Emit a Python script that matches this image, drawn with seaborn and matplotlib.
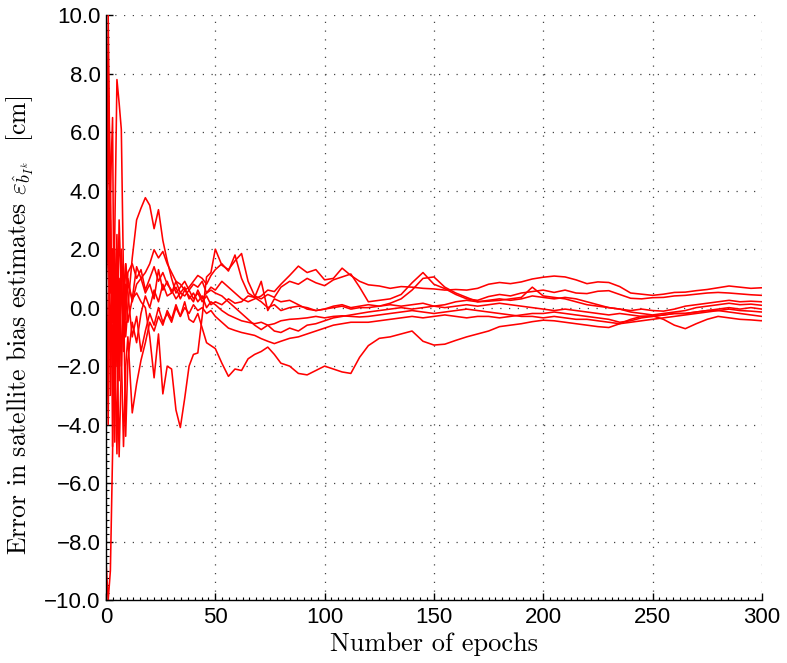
import numpy as np
import pandas as pd
import matplotlib
matplotlib.use('Agg')
import matplotlib.pyplot as plt
import seaborn as sns
from matplotlib.ticker import MultipleLocator, FuncFormatter

epochs = [0, 1, 2, 3, 4, 5, 6, 7, 8, 9, 10,
          12, 14, 16, 18, 20, 22, 24, 26, 28, 30, 32, 34, 36, 38, 40, 42, 44, 46, 48, 50,
          53, 56, 59, 62, 65, 68, 71, 74, 77, 80,
          84, 88, 92, 96, 100, 104, 108, 112, 116, 120,
          125, 130, 135, 140, 145, 150, 155, 160, 165, 170, 175, 180, 185, 190, 195, 200,
          205, 210, 215, 220, 225, 230, 235, 240, 245, 250, 255, 260, 265, 270, 275, 280,
          285, 290, 295, 300]

# error in satellite bias estimates [cm], one list per satellite
sat1 = [0.5, 10.0, 3.0, -2.0, 1.0, -1.5, 0.5, -2.0, 1.0, -1.0, 0.0,
        1.7, 3.0, 3.4, 3.76, 3.5, 2.7, 3.35, 2.3, 1.6, 1.0, 0.5, 0.7, 0.9, 0.6, 0.8, 0.7, 0.9, 0.5, 0.7, 0.6,
        0.9, 0.7, 0.5, 0.3, 0.2, 0.3, 0.4, 0.6, 0.55, 0.8,
        1.1, 1.42, 1.2, 1.3, 0.95, 1.0, 1.35, 1.1, 0.9, 0.78,
        0.74, 0.66, 0.72, 0.70, 0.66, 0.64, 0.60, 0.62, 0.60, 0.66, 0.80, 0.86, 0.82, 0.88, 0.98, 1.04,
        1.08, 1.05, 0.95, 0.82, 0.88, 0.86, 0.72, 0.50, 0.46, 0.42, 0.46, 0.52, 0.53, 0.58, 0.62, 0.68,
        0.74, 0.70, 0.66, 0.68]
sat2 = [1.0, 6.5, 0.5, 2.0, -3.0, 1.5, -1.0, 2.0, 0.5, 1.5, 0.8,
        0.3, 0.5, 0.2, 0.0, -1.0, -2.4, -0.9, -2.95, -2.0, -2.1, -3.5, -4.1, -3.1, -2.0, -1.6, -1.55, -0.3, 1.05, 1.2, 2.0,
        1.45, 1.3, 1.6, 1.85, 0.9, 0.4, 0.3, 0.45, 0.35, 0.7,
        0.9, 0.8, 1.0, 0.85, 0.75, 0.95, 1.05, 1.15, 0.7, 0.2,
        0.25, 0.3, 0.45, 0.85, 1.2, 0.8, 0.65, 0.45, 0.3, 0.25, 0.38, 0.45, 0.40, 0.5, 0.55, 0.6,
        0.52, 0.6, 0.5, 0.48, 0.56, 0.58, 0.45, 0.32, 0.3, 0.34, 0.35, 0.4, 0.42, 0.46, 0.5, 0.52,
        0.5, 0.47, 0.44, 0.42]
sat3 = [0.0, 8.3, 4.0, 6.5, -4.6, 2.0, -0.5, 1.5, -1.5, 0.5, 1.0,
        0.2, 0.8, 1.0, 1.2, 1.5, 1.98, 1.7, 1.92, 1.5, 1.2, 0.9, 0.8, 0.6, 0.7, 0.9, 1.1, 1.0, 0.8, 1.1, 1.3,
        1.5, 1.25, 1.8, 1.0, 0.5, 0.35, 0.2, 0.0, 0.1, -0.1,
        0.0, 0.05, 0.0, -0.1, -0.05, 0.05, 0.1, 0.0, 0.05, 0.1,
        0.05, 0.15, 0.3, 0.6, 1.0, 1.05, 0.7, 0.5, 0.35, 0.2, 0.22, 0.25, 0.3, 0.35, 0.7, 0.4,
        0.35, 0.3, 0.2, 0.1, 0.05, 0.0, -0.05, -0.1, -0.05, -0.1, -0.12, -0.05, 0.05, 0.1, 0.15, 0.2,
        0.25, 0.2, 0.22, 0.2]
sat4 = [1.0, -2.0, 3.0, -0.5, 2.5, 7.8, 7.0, 6.1, 1.0, -0.4, 1.2,
        1.5, 1.0, 1.3, 0.6, 1.0, 1.4, 0.9, 1.2, 0.8, 0.6, 0.3, 0.5, 0.4, 0.6, 0.3, 0.5, 0.2, 0.4, 0.1, 0.2,
        0.1, 0.3, 0.15, 0.2, 0.4, 0.35, 0.9, -0.1, 0.3, 0.2,
        0.25, 0.1, -0.05, -0.1, -0.05, 0.0, 0.05, -0.05, 0.0, 0.0,
        0.05, 0.1, 0.05, 0.1, 0.15, 0.05, 0.1, 0.2, 0.25, 0.2, 0.25, 0.3, 0.25, 0.3, 0.4, 0.35,
        0.3, 0.35, 0.3, 0.2, 0.1, 0.0, -0.05, -0.15, -0.2, -0.25, -0.2, -0.15, -0.1, 0.0, 0.05, 0.1,
        0.15, 0.1, 0.12, 0.08]
sat5 = [-8.7, -10.0, -9.0, -5.0, 1.5, -2.0, 3.0, 0.5, -1.0, 0.8, -0.5,
        0.3, 1.4, 1.0, 0.5, 0.8, 0.3, 1.3, 0.6, 0.9, 0.5, 0.7, 0.3, 0.6, 0.4, 0.2, 0.6, 0.3, 0.5, 0.6, 0.5,
        0.4, 0.2, 0.0, -0.2, -0.4, -0.6, -0.75, -0.6, -0.8, -0.85,
        -0.7, -0.8, -0.6, -0.55, -0.45, -0.35, -0.3, -0.25, -0.2, -0.15,
        -0.1, -0.05, 0.0, -0.05, 0.0, 0.05, 0.0, 0.05, 0.1, 0.05, 0.1, 0.15, 0.1, 0.05, 0.0, -0.05,
        -0.1, -0.05, -0.1, -0.15, -0.2, -0.25, -0.2, -0.25, -0.3, -0.3, -0.25, -0.2, -0.2, -0.15, -0.1, -0.05,
        0.0, -0.05, 0.0, -0.05]
sat6 = [2.0, -4.0, 5.0, -4.75, 2.0, -1.0, -5.1, -2.0, 0.5, -4.4, -1.8,
        -0.5, -1.2, -0.2, 0.4, 0.0, 0.6, 0.2, 0.8, 0.4, 0.5, 0.9, 0.5, 0.7, 0.3, 0.5, 0.2, 0.4, 0.0, 0.2, 0.1,
        -0.1, -0.25, -0.35, -0.45, -0.5, -0.55, -0.5, -0.6, -0.55, -0.45,
        -0.4, -0.38, -0.35, -0.3, -0.35, -0.3, -0.28, -0.3, -0.32, -0.3,
        -0.25, -0.2, -0.15, -0.1, -0.15, -0.2, -0.15, -0.1, -0.05, -0.1, -0.15, -0.2, -0.25, -0.3, -0.3, -0.35,
        -0.3, -0.35, -0.4, -0.4, -0.45, -0.5, -0.55, -0.5, -0.45, -0.4, -0.35, -0.3, -0.25, -0.2, -0.15, -0.1,
        -0.05, -0.1, -0.12, -0.15]
sat7 = [1.0, 4.0, -3.0, 2.0, -1.0, -5.0, 1.0, -1.5, -4.75, -2.0, -1.0,
        -3.6, -2.6, -1.8, -1.2, -0.5, -0.8, -0.3, -0.6, -0.1, -0.4, 0.1, -0.3, 0.0, -0.2, 0.1, -0.1, 0.0, -0.2, -0.1, -0.3,
        -0.5, -0.7, -0.78, -0.85, -0.9, -0.95, -1.06, -1.15, -1.23, -1.15,
        -1.05, -1.0, -0.9, -0.8, -0.7, -0.6, -0.55, -0.5, -0.5, -0.5,
        -0.45, -0.4, -0.35, -0.3, -0.35, -0.3, -0.25, -0.3, -0.35, -0.3, -0.3, -0.35, -0.3, -0.25, -0.2, -0.2,
        -0.15, -0.2, -0.25, -0.3, -0.35, -0.4, -0.5, -0.45, -0.35, -0.3, -0.25, -0.2, -0.2, -0.15, -0.1, -0.1,
        -0.15, -0.2, -0.25, -0.3]
sat8 = [0.5, 2.5, -1.0, 1.5, 0.0, 2.5, -2.5, 1.0, -0.5, 1.5, 0.5,
        -1.0, -0.3, -1.5, -0.8, -0.2, -0.6, 0.0, -0.5, -0.2, -0.5, 0.0, -0.3, 0.2, -0.4, -0.5, -0.2, -0.7, -1.2, -1.3, -1.4,
        -1.9, -2.35, -2.1, -2.15, -1.75, -1.6, -1.5, -1.35, -1.6, -1.9,
        -2.0, -2.25, -2.3, -2.15, -2.0, -2.1, -2.2, -2.25, -1.7, -1.3,
        -1.05, -1.0, -0.9, -0.8, -1.15, -1.28, -1.25, -1.12, -1.0, -0.9, -0.8, -0.65, -0.6, -0.55, -0.48, -0.43,
        -0.45, -0.5, -0.55, -0.6, -0.65, -0.68, -0.55, -0.4, -0.3, -0.28, -0.4, -0.6, -0.72, -0.55, -0.4, -0.3,
        -0.35, -0.4, -0.42, -0.45]

series = [sat1, sat2, sat3, sat4, sat5, sat6, sat7, sat8]
frames = []
for i, vals in enumerate(series):
    frames.append(pd.DataFrame({'epoch': epochs, 'err': vals, 'sat': i}))
df = pd.concat(frames, ignore_index=True)

sns.set_style('white')
plt.rcParams['font.family'] = ['Liberation Sans', 'DejaVu Sans']
plt.rcParams['mathtext.fontset'] = 'cm'

fig = plt.figure(figsize=(7.87, 6.63), dpi=100)
ax = fig.add_axes([0.1347, 0.095, 0.8333, 0.882])

sns.lineplot(data=df, x='epoch', y='err', units='sat', estimator=None,
             color='#ff0000', linewidth=1.15, ax=ax, legend=False)

ax.set_xlim(0, 300)
ax.set_ylim(-10, 10)
ax.xaxis.set_major_locator(MultipleLocator(50))
ax.xaxis.set_minor_locator(MultipleLocator(50 / 16))
ax.yaxis.set_major_locator(MultipleLocator(2))
ax.yaxis.set_minor_locator(MultipleLocator(0.25))
ax.yaxis.set_major_formatter(FuncFormatter(lambda v, p: f'{v:.1f}'.replace('-', '\u2212')))

ax.tick_params(which='both', bottom=True, left=True, top=False, right=False)
ax.tick_params(which='major', direction='in', length=5, width=1, labelsize=16,
               color='black', labelcolor='black')
ax.tick_params(which='minor', direction='in', length=2.5, width=0.8, color='black')
ax.tick_params(axis='x', pad=5)
ax.tick_params(axis='y', pad=4)

ax.grid(True, which='major', color='#444444', linestyle=(0, (1, 6)), linewidth=0.9)
for s in ['top', 'right']:
    ax.spines[s].set_visible(False)
for s in ['left', 'bottom']:
    ax.spines[s].set_color('black')
    ax.spines[s].set_linewidth(1.0)

ax.set_xlabel('Number of epochs', fontfamily='cmr10', fontsize=19, labelpad=3, color='black')
ax.set_ylabel(r'Error in satellite bias estimates $\varepsilon_{\hat{b}_{I^k}}$  [cm]',
              fontfamily='cmr10', fontsize=18.5, color='black')
ax.yaxis.set_label_coords(-0.106, 0.47)

fig.savefig('out.png', dpi=100)
